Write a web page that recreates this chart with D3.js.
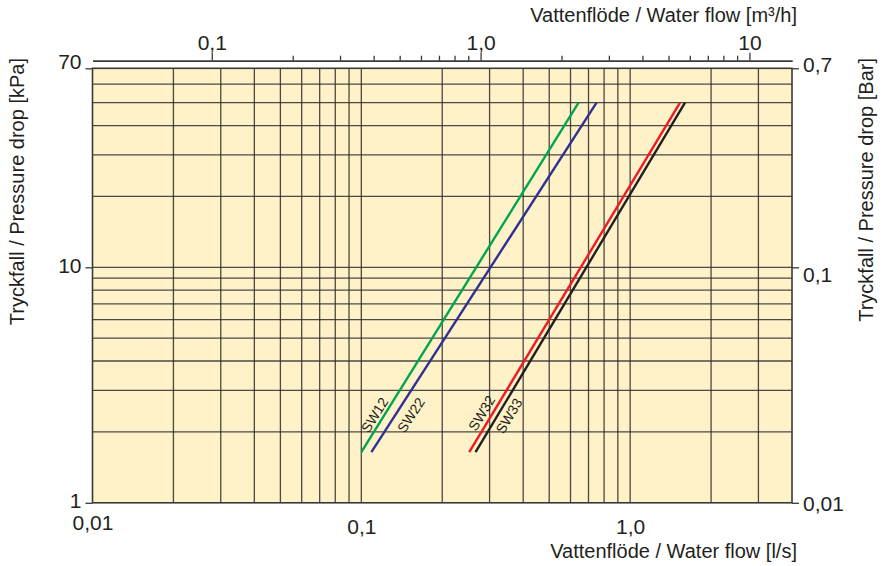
<!DOCTYPE html>
<html>
<head>
<meta charset="utf-8">
<script src="https://cdn.jsdelivr.net/npm/d3@7"></script>
<style>
  html, body { margin: 0; padding: 0; background: #ffffff; }
  svg { display: block; }
  text { font-family: "Liberation Sans", Arial, Helvetica, sans-serif; fill: #231f20; }
</style>
</head>
<body>
<svg id="chart" width="888" height="566"></svg>
<script>
// ---------- data ----------
const flowDomain = [0.01, 4];            // l/s
const pressureDomain = [1, 70];          // kPa
const flowGrid = [0.02, 0.03, 0.04, 0.05, 0.06, 0.07, 0.08, 0.09, 0.1,
                  0.2, 0.3, 0.4, 0.5, 0.6, 0.7, 0.8, 0.9, 1, 2, 3];
const pressureGrid = [2, 3, 4, 5, 6, 7, 8, 9, 10, 20, 30, 40, 50, 60];
const bottomTicks = [0.01, 0.1, 1];
const bottomLabels = ["0,01", "0,1", "1,0"];
const leftTicks = [1, 10, 70];
const leftLabels = ["1", "10", "70"];
const rightTicks = [0.01, 0.1, 0.7];     // bar
const rightLabels = ["0,01", "0,1", "0,7"];
const topMajorTicks = [0.1, 1, 10];      // m3/h
const topMajorLabels = ["0,1", "1,0", "10"];
const topMinorTicks = [0.2, 0.3, 0.4, 0.5, 0.6, 0.7, 0.8, 0.9, 2, 3, 4, 5, 6, 7, 8, 9];

const seriesNames = ["SW12", "SW22", "SW32", "SW33"];
const seriesFlow = [[0.1, 0.643], [0.109, 0.75], [0.252, 1.533], [0.266, 1.60]];
const seriesPressure = [[1.64, 50], [1.64, 50], [1.64, 50], [1.64, 50]];
const labelPressure = [2.26, 2.53, 2.29, 2.46];

// ---------- styles ----------
const seriesColors = ["#00a54f", "#2e3192", "#ed1c24", "#231f20"];
const labelOffset = [-8.5, 13, -9.6, 10];   // px, perpendicular to the line

// ---------- layout ----------
const svg = d3.select("#chart");
const L = 92.5, R = 792, T = 68.3, B = 502.8;

const x = d3.scaleLog().domain(flowDomain).range([L, R]);
const y = d3.scaleLog().domain(pressureDomain).range([B, T]);
const xTop = d3.scaleLog().domain(flowDomain.map(v => v * 3.6)).range([L, R]);
const yRight = d3.scaleLog().domain(pressureDomain.map(v => v / 100)).range([B, T]);

// background
svg.append("rect").attr("x", L).attr("y", T).attr("width", R - L).attr("height", B - T)
  .attr("fill", "#fff2c8");

// grid
const grid = svg.append("g").attr("stroke", "#2b2b2b").attr("stroke-width", 1.3).attr("stroke-opacity", 0.85);
grid.selectAll("line.v").data(flowGrid).join("line")
  .attr("x1", d => x(d)).attr("x2", d => x(d)).attr("y1", T).attr("y2", B);
grid.selectAll("line.h").data(pressureGrid).join("line")
  .attr("y1", d => y(d)).attr("y2", d => y(d)).attr("x1", L).attr("x2", R);

// frame
svg.append("rect").attr("x", L).attr("y", T).attr("width", R - L).attr("height", B - T)
  .attr("fill", "none").attr("stroke", "#3a3a3a").attr("stroke-width", 1.6);

function styleAxis(g) {
  g.selectAll(".domain").attr("stroke", "#3a3a3a").attr("stroke-width", 1.6);
  g.selectAll(".tick line").attr("stroke", "#3a3a3a").attr("stroke-width", 1.3);
  g.selectAll("text").attr("fill", "#231f20").style("font-family", '"Liberation Sans", Arial, sans-serif');
}

// left axis
const gl = svg.append("g").attr("transform", `translate(${L},0)`)
  .call(d3.axisLeft(y).tickValues(leftTicks).tickSize(7).tickSizeOuter(0).tickPadding(4)
    .tickFormat((d, i) => leftLabels[i]));
styleAxis(gl);
gl.selectAll("text").style("font-size", "21px");
gl.selectAll(".domain").remove();
const leftNudge = [-2.5, -2, -6.5];
gl.selectAll(".tick text").attr("dy", (d, i) => (0.32 + leftNudge[i] / 21) + "em");

// right axis
const gr = svg.append("g").attr("transform", `translate(${R},0)`)
  .call(d3.axisRight(yRight).tickValues(rightTicks).tickSize(7).tickSizeOuter(0).tickPadding(4)
    .tickFormat((d, i) => rightLabels[i]));
styleAxis(gr);
gr.selectAll(".domain").remove();
gr.selectAll("text").style("font-size", "21px");
const rightNudge = [1, 7, -4];
gr.selectAll(".tick text").attr("dy", (d, i) => (0.32 + rightNudge[i] / 21) + "em");

// bottom axis
const gb = svg.append("g").attr("transform", `translate(0,${B})`)
  .call(d3.axisBottom(x).tickValues(bottomTicks).tickSize(0).tickSizeOuter(0).tickPadding(10)
    .tickFormat((d, i) => bottomLabels[i]));
styleAxis(gb);
gb.selectAll(".domain").remove();
gb.selectAll("text").style("font-size", "21px");
gb.selectAll(".tick text").attr("dy", (d, i) => i === 0 ? "0.8em" : "1.0em");

// top axis
const topY = 60.7;
const gtm = svg.append("g").attr("transform", `translate(0,${topY})`)
  .call(d3.axisTop(xTop).tickValues(topMinorTicks).tickSize(5).tickSizeOuter(0).tickFormat(""));
styleAxis(gtm);
const gt = svg.append("g").attr("transform", `translate(0,${topY})`)
  .call(d3.axisTop(xTop).tickValues(topMajorTicks).tickSize(8).tickSizeOuter(0).tickPadding(3)
    .tickFormat((d, i) => topMajorLabels[i]));
styleAxis(gt);
gt.selectAll("text").style("font-size", "21px");

// axis titles
svg.append("text").attr("x", 797).attr("y", 22).attr("text-anchor", "end")
  .style("font-size", "20px").text("Vattenflöde / Water flow [m³/h]");
svg.append("text").attr("x", 797).attr("y", 558).attr("text-anchor", "end")
  .style("font-size", "20px").text("Vattenflöde / Water flow [l/s]");
svg.append("text").attr("transform", "translate(24,58) rotate(-90)").attr("text-anchor", "end")
  .style("font-size", "20px").text("Tryckfall / Pressure drop [kPa]");
svg.append("text").attr("transform", "translate(873,58) rotate(-90)").attr("text-anchor", "end")
  .style("font-size", "20px").text("Tryckfall / Pressure drop [Bar]");

// series
const line = d3.line().x(d => x(d[0])).y(d => y(d[1]));
seriesNames.forEach((name, i) => {
  const pts = seriesFlow[i].map((f, j) => [f, seriesPressure[i][j]]);
  svg.append("path").datum(pts).attr("d", line)
    .attr("fill", "none").attr("stroke", seriesColors[i]).attr("stroke-width", 2.4);

  // label along the line
  const p0 = [x(pts[0][0]), y(pts[0][1])], p1 = [x(pts[1][0]), y(pts[1][1])];
  const ang = Math.atan2(p1[1] - p0[1], p1[0] - p0[0]) * 180 / Math.PI;
  const t = (Math.log(labelPressure[i]) - Math.log(pts[0][1])) / (Math.log(pts[1][1]) - Math.log(pts[0][1]));
  const lx = p0[0] + t * (p1[0] - p0[0]), ly = p0[1] + t * (p1[1] - p0[1]);
  svg.append("text")
    .attr("transform", `translate(${lx},${ly}) rotate(${ang}) translate(0,${labelOffset[i]})`)
    .attr("text-anchor", "middle").attr("dy", "0.36em")
    .style("font-size", "14px").text(name);
});
</script>
</body>
</html>
